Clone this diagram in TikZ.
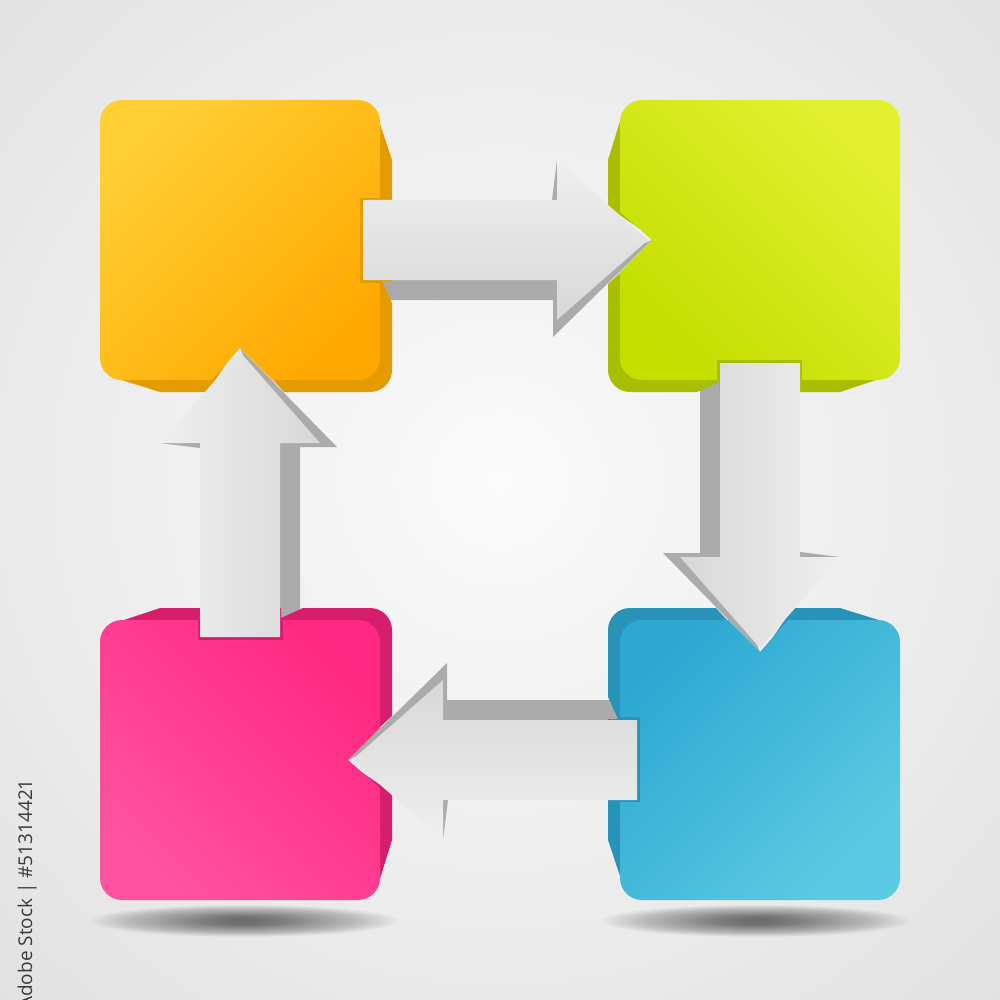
\documentclass[tikz,border=0pt]{standalone}
\usepackage{fontspec}
\newfontfamily\idfont{Open Sans}
\definecolor{bgout}{HTML}{DCDCDC}
\definecolor{bgin}{HTML}{FBFBFB}
\definecolor{arrowlight}{HTML}{EFEFEF}
\definecolor{arrowmid}{HTML}{D8D8DA}
\definecolor{arrowdark}{HTML}{ABABAB}
\definecolor{orA}{HTML}{FFCF34}
\definecolor{orB}{HTML}{FFA900}
\definecolor{orS}{HTML}{E49B00}
\definecolor{grA}{HTML}{E3F030}
\definecolor{grB}{HTML}{C2DF00}
\definecolor{grS}{HTML}{A9BE00}
\definecolor{pkA}{HTML}{FF2882}
\definecolor{pkB}{HTML}{FF529F}
\definecolor{pkS}{HTML}{D71E6C}
\definecolor{blA}{HTML}{2EA8D2}
\definecolor{blB}{HTML}{5CCAE3}
\definecolor{blS}{HTML}{2893B9}
\definecolor{idgray}{HTML}{3A3A3A}
\tikzset{
  arrowside/.style={fill=arrowdark},
  arrowface/.style={top color=arrowlight,bottom color=arrowmid},
  shadowblob/.style={fill=black,opacity=0.017}
}
% geometry of one box (top-left one) and of the arrow leaving it; the others are rotations
\newcommand\arrowDarkPath{(378,280) -- (557,280) -- (652,240) -- (553,337) -- (553,300) -- (378,300) -- cycle
  (552,200) -- (557,160) -- (558,200) -- cycle}
\newcommand\arrowFrontPath{(363,200) -- (557,200) -- (557,160) -- (648,240) -- (557,320) -- (557,280) -- (363,280) -- cycle}
\newcommand\boxSidePath{(240,115) -- (378,118) -- (392,160) -- (392,281) -- (382,281) -- (392,303) -- (392,340)
  [rounded corners=22pt] -- (392,392) -- (340,392) [sharp corners] -- (284,392) -- (240,344) -- (207,392)
  -- (160,392) -- (115,378) -- (115,240) -- cycle}
\newcommand\boxFrontPath{(240,100) [rounded corners=22pt] -- (380,100) -- (380,150) [sharp corners]
  -- (380,198) -- (360,198) -- (360,283) -- (380,283) -- (380,310) [rounded corners=22pt] -- (380,380)
  -- (320,380) [sharp corners] -- (272,380) -- (240,348) -- (212,380) -- (170,380) [rounded corners=22pt]
  -- (100,380) -- (100,100) -- cycle}
\newcommand\inRot[2]{\begin{scope}[transform canvas={rotate around={#1:(500,500)}}]#2\end{scope}}
\begin{document}
\begin{tikzpicture}[x=1pt,y=-1pt]
\useasboundingbox (0,0) rectangle (1000,1000);
\begin{scope}
  \clip (0,0) rectangle (1000,1000);
  \fill[bgout] (0,0) rectangle (1000,1000);
  \shade[inner color=bgin,outer color=bgout] (500,480) circle (900);
\end{scope}
% floor shadows
\foreach \cx in {244,756}{
  \foreach \i in {0,...,39}{
    \fill[shadowblob] (\cx,921) ellipse [x radius={155-3.6*\i}, y radius={16-0.33*\i}];
  }
}
% arrow side faces
\foreach \a in {0,-90,180,90}{\inRot{\a}{\fill[arrowside] \arrowDarkPath;}}
% box side faces
\inRot{0}{\fill[orS] \boxSidePath;}
\inRot{-90}{\fill[grS] \boxSidePath;}
\inRot{180}{\fill[blS] \boxSidePath;}
\inRot{90}{\fill[pkS] \boxSidePath;}
% arrow front faces
\foreach \a in {0,-90,180,90}{\inRot{\a}{\shade[arrowface] \arrowFrontPath;}}
% box front faces
\inRot{0}{\shade[top color=orA,bottom color=orB,shading angle=45] \boxFrontPath;}
\inRot{-90}{\shade[top color=grA,bottom color=grB,shading angle=45] \boxFrontPath;}
\inRot{180}{\shade[top color=blA,bottom color=blB,shading angle=-135] \boxFrontPath;}
\inRot{90}{\shade[top color=pkA,bottom color=pkB,shading angle=-135] \boxFrontPath;}
% stock id
\node[rotate=90,anchor=base east,inner sep=0pt,text=idgray,font=\idfont\fontsize{19}{22}\selectfont] (stockid) at (32,779) {Adobe Stock | \#51314421};
\end{tikzpicture}
\end{document}
